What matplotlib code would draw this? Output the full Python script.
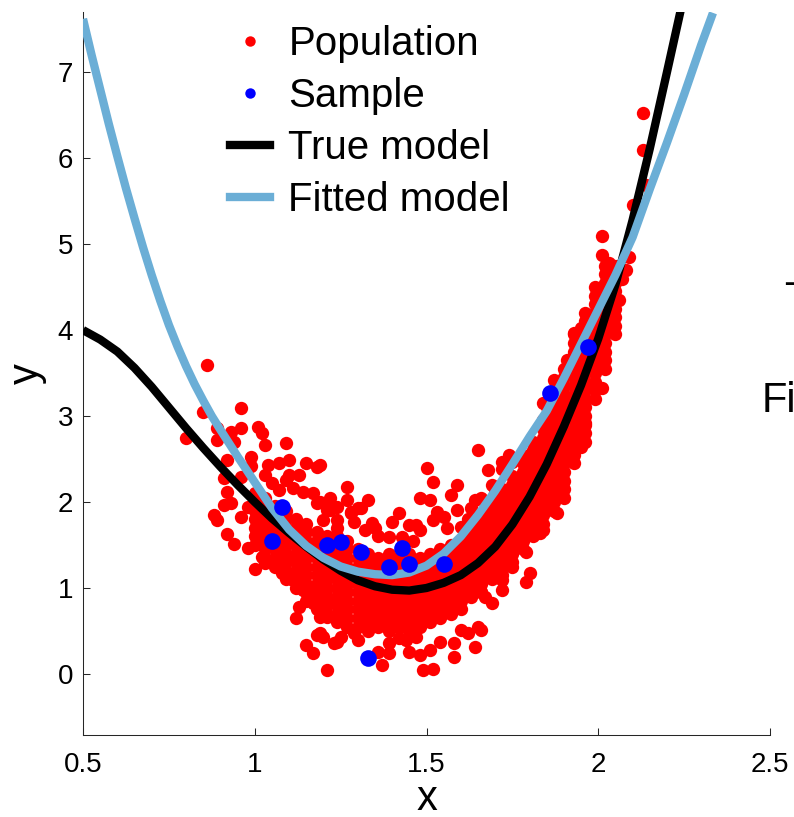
import numpy as np
import matplotlib.pyplot as plt
from matplotlib.lines import Line2D

plt.rcParams['font.family'] = ['Liberation Sans', 'DejaVu Sans']

# curves
true_x = [0.50, 0.55, 0.60, 0.65, 0.70, 0.75, 0.80, 0.85, 0.90, 0.95, 1.00, 1.05,
          1.10, 1.15, 1.20, 1.25, 1.30, 1.35, 1.40, 1.45, 1.50, 1.55, 1.60, 1.65,
          1.70, 1.75, 1.80, 1.85, 1.90, 1.95, 2.00, 2.05, 2.10, 2.15, 2.20, 2.24]
true_y = [4.00, 3.89, 3.75, 3.56, 3.34, 3.10, 2.86, 2.63, 2.41, 2.20, 2.00, 1.81,
          1.64, 1.48, 1.33, 1.20, 1.09, 1.02, 0.98, 0.97, 1.00, 1.06, 1.15, 1.29,
          1.48, 1.74, 2.06, 2.44, 2.88, 3.36, 3.90, 4.53, 5.28, 6.11, 7.00, 7.72]

fit_x = [0.50, 0.525, 0.55, 0.575, 0.60, 0.625, 0.65, 0.675, 0.70, 0.725, 0.75,
         0.775, 0.80, 0.825, 0.85, 0.875, 0.90, 0.95, 1.00, 1.05, 1.10, 1.15,
         1.20, 1.25, 1.30, 1.35, 1.40, 1.45, 1.50, 1.55, 1.60, 1.65, 1.70, 1.75,
         1.80, 1.85, 1.90, 1.95, 2.00, 2.05, 2.10, 2.15, 2.20, 2.25, 2.30, 2.334]
fit_y = [7.62, 7.20, 6.80, 6.40, 6.02, 5.65, 5.30, 4.96, 4.64, 4.34, 4.06,
         3.81, 3.58, 3.37, 3.18, 3.00, 2.84, 2.53, 2.23, 1.93, 1.68, 1.49,
         1.35, 1.25, 1.19, 1.16, 1.15, 1.18, 1.26, 1.40, 1.60, 1.85, 2.13, 2.44,
         2.76, 3.06, 3.44, 3.84, 4.24, 4.64, 5.08, 5.64, 6.18, 6.74, 7.32, 7.69]

# the sample
sample_x = [1.05, 1.08, 1.21, 1.25, 1.31, 1.39, 1.43, 1.45, 1.55, 1.33, 1.86, 1.97]
sample_y = [1.55, 1.94, 1.50, 1.54, 1.42, 1.24, 1.47, 1.28, 1.28, 0.19, 3.27, 3.80]

# dense part of the population, one list of y values per x column
core_x = [1.00, 1.03, 1.06, 1.09, 1.12, 1.15, 1.18, 1.21, 1.24, 1.27, 1.30, 1.33,
          1.36, 1.39, 1.42, 1.45, 1.48, 1.51, 1.54, 1.57, 1.60, 1.63, 1.66, 1.69,
          1.72, 1.75, 1.78, 1.81, 1.84, 1.87, 1.90, 1.93, 1.96, 1.99, 2.02, 2.05]
core_y = [
    [1.50, 1.60, 1.70, 1.80, 1.90, 2.00, 2.10],
    [1.35, 1.45, 1.55, 1.65, 1.75, 1.85, 1.95, 2.05],
    [1.25, 1.35, 1.45, 1.55, 1.65, 1.75, 1.85, 1.95],
    [1.10, 1.20, 1.30, 1.40, 1.50, 1.60, 1.70, 1.80, 1.90],
    [1.00, 1.10, 1.20, 1.30, 1.40, 1.50, 1.60, 1.70, 1.80],
    [0.85, 0.95, 1.05, 1.15, 1.25, 1.35, 1.45, 1.55, 1.65, 1.75],
    [0.75, 0.85, 0.95, 1.05, 1.15, 1.25, 1.35, 1.45, 1.55, 1.65],
    [0.70, 0.80, 0.90, 1.00, 1.10, 1.20, 1.30, 1.40, 1.50, 1.60],
    [0.60, 0.70, 0.80, 0.90, 1.00, 1.10, 1.20, 1.30, 1.40, 1.50, 1.60],
    [0.55, 0.65, 0.75, 0.85, 0.95, 1.05, 1.15, 1.25, 1.35, 1.45, 1.55],
    [0.55, 0.65, 0.75, 0.85, 0.95, 1.05, 1.15, 1.25, 1.35, 1.45],
    [0.50, 0.60, 0.70, 0.80, 0.90, 1.00, 1.10, 1.20, 1.30, 1.40],
    [0.55, 0.65, 0.75, 0.85, 0.95, 1.05, 1.15, 1.25, 1.35],
    [0.50, 0.60, 0.70, 0.80, 0.90, 1.00, 1.10, 1.20, 1.30, 1.40],
    [0.55, 0.65, 0.75, 0.85, 0.95, 1.05, 1.15, 1.25, 1.35],
    [0.50, 0.60, 0.70, 0.80, 0.90, 1.00, 1.10, 1.20, 1.30, 1.40],
    [0.55, 0.65, 0.75, 0.85, 0.95, 1.05, 1.15, 1.25, 1.35],
    [0.60, 0.70, 0.80, 0.90, 1.00, 1.10, 1.20, 1.30, 1.40],
    [0.65, 0.75, 0.85, 0.95, 1.05, 1.15, 1.25, 1.35, 1.45],
    [0.70, 0.80, 0.90, 1.00, 1.10, 1.20, 1.30, 1.40, 1.50],
    [0.75, 0.85, 0.95, 1.05, 1.15, 1.25, 1.35, 1.45, 1.55],
    [0.90, 1.00, 1.10, 1.20, 1.30, 1.40, 1.50, 1.60, 1.70],
    [0.95, 1.05, 1.15, 1.25, 1.35, 1.45, 1.55, 1.65, 1.75, 1.85],
    [1.10, 1.20, 1.30, 1.40, 1.50, 1.60, 1.70, 1.80, 1.90, 2.00],
    [1.15, 1.25, 1.35, 1.45, 1.55, 1.65, 1.75, 1.85, 1.95, 2.05, 2.15],
    [1.30, 1.40, 1.50, 1.60, 1.70, 1.80, 1.90, 2.00, 2.10, 2.20, 2.30],
    [1.45, 1.55, 1.65, 1.75, 1.85, 1.95, 2.05, 2.15, 2.25, 2.35, 2.45, 2.55],
    [1.60, 1.70, 1.80, 1.90, 2.00, 2.10, 2.20, 2.30, 2.40, 2.50, 2.60, 2.70],
    [1.75, 1.85, 1.95, 2.05, 2.15, 2.25, 2.35, 2.45, 2.55, 2.65, 2.75, 2.85, 2.95],
    [1.90, 2.00, 2.10, 2.20, 2.30, 2.40, 2.50, 2.60, 2.70, 2.80, 2.90, 3.00, 3.10,
     3.20, 3.30],
    [2.05, 2.15, 2.25, 2.35, 2.45, 2.55, 2.65, 2.75, 2.85, 2.95, 3.05, 3.15, 3.25,
     3.35, 3.45, 3.55],
    [2.45, 2.55, 2.65, 2.75, 2.85, 2.95, 3.05, 3.15, 3.25, 3.35, 3.45, 3.55, 3.65,
     3.75, 3.85, 3.95],
    [2.70, 2.80, 2.90, 3.00, 3.10, 3.20, 3.30, 3.40, 3.50, 3.60, 3.70, 3.80, 3.90,
     4.00, 4.10, 4.20],
    [3.20, 3.30, 3.40, 3.50, 3.60, 3.70, 3.80, 3.90, 4.00, 4.10, 4.20, 4.30, 4.40,
     4.50],
    [3.55, 3.65, 3.75, 3.85, 3.95, 4.05, 4.15, 4.25, 4.35, 4.45, 4.55, 4.65, 4.75],
    [3.95, 4.05, 4.15, 4.25, 4.35, 4.45, 4.55, 4.65, 4.75],
]

# loose population points around the dense part
pop_x = [0.86, 0.85, 0.96, 0.80, 0.89, 0.93, 0.96, 1.01, 1.02, 0.94, 0.89, 1.03,
         1.09, 0.92, 0.99, 0.99, 1.04, 1.07, 1.10, 1.15, 1.18, 0.91, 0.96, 1.03,
         1.05, 1.10, 1.13, 1.14, 1.17, 1.18, 0.92, 0.93, 0.91, 0.98, 1.05, 0.96,
         0.88, 1.09, 1.07, 1.11, 0.89, 0.92, 0.94, 0.98, 1.01, 1.00, 1.02, 1.03,
         1.08, 1.11, 1.13, 1.14, 1.15, 1.16, 1.18, 1.13, 1.17, 1.12, 1.19, 1.21,
         1.19, 1.20, 1.18, 1.15, 1.17, 1.23, 1.24, 1.25, 1.29, 1.30, 1.21, 1.37,
         1.36, 1.39, 1.39, 1.42, 1.44, 1.47, 1.45, 1.48, 1.49, 1.52, 1.51, 1.54,
         1.58, 1.58, 1.64, 1.60, 1.62, 1.65, 1.66, 1.69, 1.67, 1.66, 1.72, 1.72,
         1.79, 1.80, 1.75, 1.79, 1.83, 1.84, 1.88, 1.89, 1.88, 1.95, 1.95, 1.93,
         1.91, 1.96,
         1.19, 1.27, 1.27, 1.22, 1.24, 1.33, 1.28, 1.31, 1.24, 1.20, 1.34, 1.35,
         1.42, 1.40, 1.45, 1.47, 1.50, 1.52, 1.48, 1.51, 1.53, 1.59, 1.57, 1.59,
         1.64, 1.63, 1.65, 1.68, 1.48, 1.52, 1.55, 1.60, 1.19, 1.32, 1.39, 1.43,
         1.74, 1.75, 1.72, 1.72, 1.22, 1.28, 1.30, 1.24, 1.21, 1.29, 1.36, 1.46,
         1.56, 1.62, 1.69, 1.70, 1.66,
         2.13, 2.13, 2.14, 2.10, 2.01, 2.01, 2.03, 2.09, 2.01, 2.04, 2.06, 2.00,
         1.99, 2.03, 2.04, 1.93, 1.95, 1.91, 1.93, 2.00, 1.87, 1.89, 2.01, 1.84,
         1.85, 2.07, 2.08]
pop_y = [3.59, 3.05, 3.09, 2.74, 2.86, 2.81, 2.86, 2.87, 2.80, 2.70, 2.72, 2.66,
         2.69, 2.49, 2.52, 2.42, 2.43, 2.45, 2.49, 2.45, 2.41, 2.28, 2.29, 2.31,
         2.22, 2.31, 2.31, 2.12, 2.10, 1.99, 2.12, 1.99, 1.97, 1.94, 1.94, 1.83,
         1.85, 2.26, 2.14, 2.16, 1.79, 1.63, 1.51, 1.47, 1.59, 1.22, 1.36, 1.29,
         1.17, 1.09, 1.17, 0.98, 1.01, 0.92, 0.95, 0.78, 0.83, 0.65, 0.66, 0.66,
         0.48, 0.43, 0.45, 0.34, 0.24, 0.36, 0.37, 0.43, 0.48, 0.40, 0.05, 0.10,
         0.26, 0.24, 0.36, 0.42, 0.40, 0.43, 0.26, 0.22, 0.05, 0.06, 0.28, 0.37,
         0.20, 0.36, 0.31, 0.51, 0.48, 0.55, 0.51, 0.83, 0.90, 0.95, 0.98, 1.09,
         1.07, 1.17, 1.24, 1.42, 1.64, 1.67, 1.87, 2.10, 2.20, 2.64, 2.90, 2.80,
         2.57, 2.92,
         2.43, 2.17, 2.02, 2.05, 1.94, 2.02, 1.88, 1.93, 1.79, 1.79, 1.76, 1.70,
         1.87, 1.77, 1.73, 1.73, 2.40, 2.23, 2.05, 2.02, 1.88, 2.20, 2.08, 1.91,
         2.02, 1.93, 2.60, 2.37, 1.67, 1.79, 1.83, 1.71, 2.00, 1.67, 1.59, 1.59,
         2.55, 2.47, 2.47, 2.38, 1.91, 1.87, 1.93, 1.70, 1.91, 1.77, 1.60, 1.55,
         1.70, 1.80, 2.20, 2.10, 2.05,
         6.52, 6.09, 5.69, 5.45, 5.10, 4.87, 4.78, 4.85, 4.50, 4.43, 4.35, 4.31,
         4.12, 4.12, 4.00, 3.97, 4.03, 3.65, 3.57, 3.65, 3.42, 3.34, 3.33, 3.15,
         3.10, 4.60, 4.70]

all_x = np.array(pop_x + [x for x, col in zip(core_x, core_y) for _ in col])
all_y = np.array(pop_y + [y for col in core_y for y in col])

fig = plt.figure(figsize=(7.94, 8.17), dpi=100)
ax = fig.add_axes([83 / 794, 82 / 817, 687 / 794, 723 / 817])

ax.plot(all_x, all_y, 'o', color='#ff0000', ms=9.6, mec='none', zorder=2)
ax.plot(true_x, true_y, color='black', lw=6, solid_capstyle='butt',
        solid_joinstyle='round', zorder=3)
ax.plot(fit_x, fit_y, color='#6baed6', lw=6, solid_capstyle='butt',
        solid_joinstyle='round', zorder=4)
ax.plot(sample_x, sample_y, 'o', color='#0000ff', ms=12, mec='none', zorder=5)

ax.set_xlim(0.5, 2.5)
ax.set_ylim(-0.71, 7.70)
ax.set_xticks([0.5, 1, 1.5, 2, 2.5])
ax.set_xticklabels(['0.5', '1', '1.5', '2', '2.5'])
ax.set_yticks(range(8))
ax.tick_params(direction='in', length=5, width=0.75, color='#262626', labelsize=20)
ax.tick_params(axis='x', pad=12)
ax.tick_params(axis='y', pad=7)
for s in ['top', 'right']:
    ax.spines[s].set_visible(False)
for s in ['left', 'bottom']:
    ax.spines[s].set_linewidth(0.75)
    ax.spines[s].set_color('#262626')
ax.set_xlabel('x', fontsize=30, labelpad=1)
ax.set_ylabel('y', fontsize=30, labelpad=8)

handles = [
    Line2D([], [], ls='none', marker='o', color='#ff0000', ms=7.5, mec='none'),
    Line2D([], [], ls='none', marker='o', color='#0000ff', ms=7.5, mec='none'),
    Line2D([], [], color='black', lw=6),
    Line2D([], [], color='#6baed6', lw=6),
]
labels = ['Population', 'Sample', 'True model', 'Fitted model']
fig.legend(handles, labels, loc='upper left', bbox_to_anchor=(230 / 794, 1 - 25 / 817),
           frameon=False, fontsize=29, handlelength=1.0, handletextpad=0.45,
           labelspacing=0.35, borderpad=0, borderaxespad=0)

# text from a neighbouring panel, cut off by the figure edge
fig.text(783 / 794, 1 - 295 / 817, '-', fontsize=30, va='baseline')
fig.text(762 / 794, 1 - 412 / 817, 'Fi', fontsize=30, va='baseline')

fig.savefig('out.png', dpi=100)
